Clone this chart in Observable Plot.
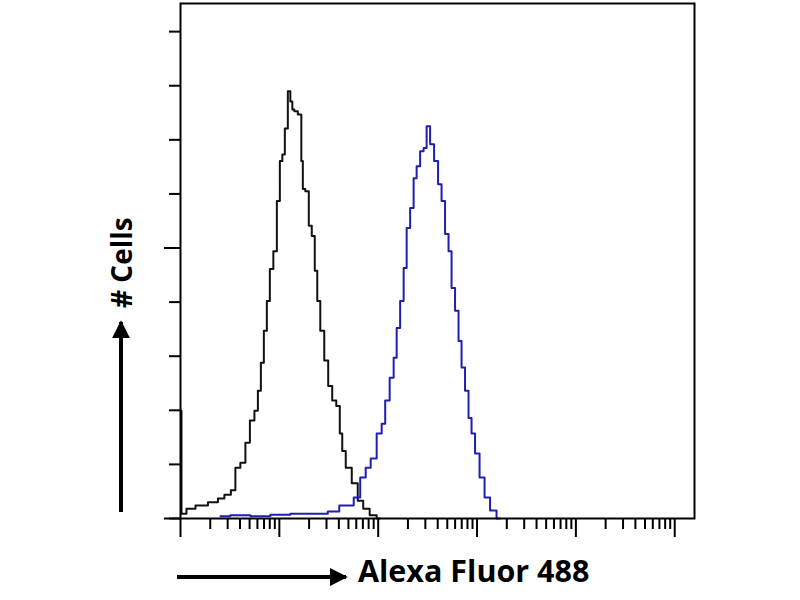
<!DOCTYPE html>
<html>
<head>
<meta charset="utf-8">
<script src="https://cdn.jsdelivr.net/npm/d3@7"></script>
<script src="https://cdn.jsdelivr.net/npm/@observablehq/plot@0.6"></script>
<style>
  body { margin: 0; background: #fff; }
  #chart { width: 800px; height: 600px; }
</style>
</head>
<body>
<div id="chart"></div>
<script>
// isotype control (black) : fluorescence intensity / cell count
const controlX = [1, 1.047, 1.262, 1.592, 2.257, 2.535, 3.05, 3.43, 3.76, 4.33, 4.75, 5.34, 5.86,
  6.28, 6.73, 7.22, 7.74, 8.30, 9.11, 9.77, 10.48, 10.97, 11.77, 12.62, 13.22, 13.85, 14.51,
  16.30, 17.08, 17.48, 19.18, 20.56, 22.04, 23.63, 24.76, 27.2, 29.8, 32.7, 35.9, 39.5, 42.3,
  44.3, 49.8, 58.6, 65.8, 75.6, 89.0, 104.7];
const controlCount = [19.9, 0.9, 1.8, 2.4, 3.0, 3.7, 4.4, 5.2, 9.4, 10.3, 14.0, 18.1, 19.9,
  23.6, 28.8, 34.7, 40.2, 46.1, 49.4, 58.7, 66.1, 67.3, 72.1, 79.0, 77.1, 75.6, 75.3,
  74.7, 66.1, 60.9, 60.5, 54.1, 52.2, 45.8, 40.2, 34.7, 29.2, 24.5, 21.8, 20.8, 15.7,
  12.5, 9.4, 6.5, 3.3, 1.8, 0.6, 0];

// antibody stained (blue)
const stainedX = [2.535, 4.04, 6.43, 10.23, 16.30, 25.95, 36.8, 44.3, 52.1, 61.4, 70.5, 79.2,
  89.0, 104.7, 112.4, 123.3, 138.4, 148.5, 159.2, 174.7, 187.4, 201.0, 220.5, 236.4, 253.6,
  278.2, 298.4, 320.0, 351.1, 385.2, 422.6, 453.2, 497.2, 533.3, 572.0, 627.5, 673.1, 722.0,
  792.0, 849.6, 911.3, 1000, 1124, 1263, 1452, 1708];
const stainedCount = [0.4, 0.6, 0.4, 0.7, 0.9, 0.9, 1.3, 2.4, 2.4, 3.9, 7.6, 9.4, 11.1, 15.7,
  17.5, 21.8, 26.0, 29.7, 35.2, 40.2, 46.3, 53.7, 57.4, 62.9, 65.1, 67.9, 68.5, 72.5, 69.2,
  66.1, 61.8, 58.7, 52.6, 49.4, 42.6, 38.4, 32.8, 27.9, 23.6, 18.6, 15.7, 12.0, 7.6, 3.9, 1.5, 0];

const decades = [1, 10, 100, 1000, 10000, 100000];
const minorTicks = decades.flatMap(d => d3.range(2, 10).map(m => m * d)).filter(v => v < 10 ** 5.2);
const yMinor = d3.range(0, 95, 10);
const yMajor = [0, 50];

const control = controlX.map((x, i) => ({x, count: controlCount[i]}));
const stained = stainedX.map((x, i) => ({x, count: stainedCount[i]}));

const chart = Plot.plot({
  width: 800,
  height: 600,
  marginLeft: 180,
  marginRight: 106,
  marginTop: 3,
  marginBottom: 82,
  style: { backgroundColor: "#fff", overflow: "visible" },
  x: { type: "log", domain: [1, 10 ** 5.2] },
  y: { domain: [0, 95.2] },
  marks: [
    Plot.axisX({ ticks: minorTicks, tickSize: 11, tickFormat: () => "", strokeWidth: 2, label: null }),
    Plot.axisX({ ticks: decades, tickSize: 19, tickFormat: () => "", strokeWidth: 2, label: null }),
    Plot.axisY({ ticks: yMinor, tickSize: 11, tickFormat: () => "", strokeWidth: 2, label: null }),
    Plot.axisY({ ticks: yMajor, tickSize: 16, tickFormat: () => "", strokeWidth: 2, label: null }),
    Plot.line(control, { x: "x", y: "count", curve: "step", stroke: "#111", strokeWidth: 2 }),
    Plot.line(stained, { x: "x", y: "count", curve: "step", stroke: "#1f1fb0", strokeWidth: 2 }),
    Plot.frame({ stroke: "#000", strokeWidth: 2 })
  ]
});

d3.select("#chart").append(() => chart);

// axis titles with arrows, drawn in the margins
const svg = d3.select(chart);
const defs = svg.append("defs");
defs.append("marker")
  .attr("id", "head")
  .attr("viewBox", "0 0 10 10")
  .attr("refX", 9).attr("refY", 5)
  .attr("markerWidth", 4.5).attr("markerHeight", 4.5)
  .attr("markerUnits", "strokeWidth")
  .attr("orient", "auto")
  .append("path").attr("d", "M0,0 L10,5 L0,10 z").attr("fill", "#000");

svg.append("line")
  .attr("x1", 177).attr("y1", 577).attr("x2", 346).attr("y2", 577)
  .attr("stroke", "#000").attr("stroke-width", 4).attr("marker-end", "url(#head)");
svg.append("line")
  .attr("x1", 121).attr("y1", 512).attr("x2", 121).attr("y2", 322)
  .attr("stroke", "#000").attr("stroke-width", 4).attr("marker-end", "url(#head)");

const titleFont = "'Open Sans', Lato, sans-serif";
svg.append("text")
  .attr("x", 358).attr("y", 582)
  .attr("text-anchor", "start")
  .attr("font-family", titleFont)
  .attr("font-weight", "bold").attr("font-size", 30.5)
  .attr("fill", "#000")
  .text("Alexa Fluor 488");
svg.append("text")
  .attr("transform", "translate(132,308) rotate(-90)")
  .attr("text-anchor", "start")
  .attr("font-family", titleFont)
  .attr("font-weight", "bold").attr("font-size", 28)
  .attr("fill", "#000")
  .text("# Cells");
</script>
</body>
</html>
